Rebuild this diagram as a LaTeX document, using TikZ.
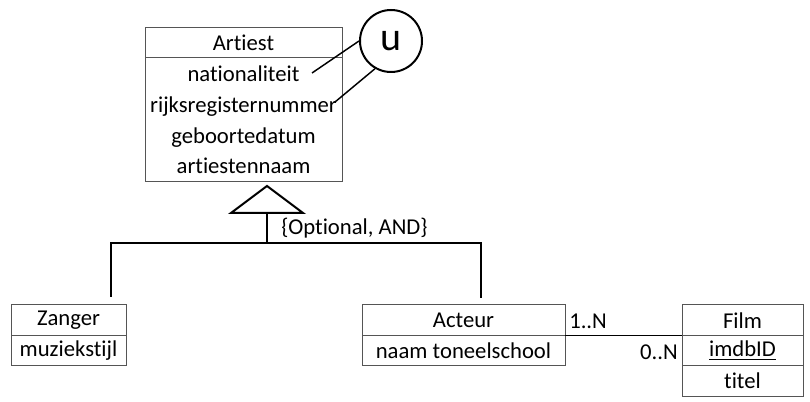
\documentclass[tikz,border=0pt]{standalone}
\usepackage{amsmath}
\usepackage{xcolor}
\usepackage{fontspec}
\setmainfont[Ligatures={NoCommon}]{Carlito}
\usepackage{tikz}
\usetikzlibrary{positioning}

\definecolor{boxgray}{RGB}{85,85,85}

\tikzset{
  entrow/.style={draw=boxgray, line width=0.75pt, inner sep=0pt, outer sep=0pt, align=center,
    font=\fontsize{17}{23}\selectfont},
  genline/.style={line width=1.5pt, black},
  assocline/.style={line width=0.75pt, black},
  cardlabel/.style={inner sep=0pt, font=\fontsize{17}{23}\selectfont}
}

\begin{document}
\begin{tikzpicture}[x=0.75pt,y=0.75pt,yscale=-1,xscale=1]

\useasboundingbox (0,0) rectangle (810,402);


\node (artiest) [entrow, anchor=north west, minimum width=147.75pt, minimum height=22.5pt] at (145,28) {Artiest};

\node (artiestattr) [entrow, below=0pt of artiest, minimum width=147.75pt, minimum height=93pt] {nationaliteit\\rijksregisternummer\\geboortedatum\\artiestennaam};


\node (uniek) [circle, draw, line width=1.5pt, minimum size=46.5pt, inner sep=0pt, font=\fontsize{30}{34}\selectfont] at (391,41) {u};

\coordinate (natend) at (312,73);

\coordinate (rijksend) at (335,102);

\draw [line width=1.1pt] (natend) -- (uniek.180);

\draw [line width=1.1pt] (rijksend) -- (uniek.240);


\node (zanger) [entrow, anchor=north west, minimum width=86.25pt, minimum height=23pt] at (11,305) {Zanger};

\node (zangerattr) [entrow, below=0pt of zanger, minimum width=86.25pt, minimum height=22.5pt] {muziekstijl};


\node (acteur) [entrow, anchor=north west, minimum width=152.25pt, minimum height=23pt] at (362,305) {Acteur};

\node (acteurattr) [entrow, below=0pt of acteur, minimum width=152.25pt, minimum height=22.5pt] {naam toneelschool};


\node (film) [entrow, anchor=north west, minimum width=90.75pt, minimum height=23pt] at (682,305) {Film};

\node (filmkey) [entrow, below=0pt of film, minimum width=90.75pt, minimum height=22.5pt] {\underline{imdbID}};

\node (filmattr) [entrow, below=0pt of filmkey, minimum width=90.75pt, minimum height=23.25pt] {titel};


\coordinate (gentop) at (267,186);

\coordinate (genbase) at (267,213);

\coordinate (genbar) at (267,243);

\coordinate (zangerup) at (111,297);

\coordinate (acteurup) at (481,298);

\draw [genline, line join=miter] (231,213) -- (gentop) -- (303,213) -- cycle;

\draw [genline] (genbase) -- (genbar);

\draw [genline] (zangerup) |- (genbar) -| (acteurup);

\node (genlabel) [cardlabel, anchor=west] at (281,228) {\{Optional, AND\}};


\draw [assocline] (acteur.south east) -- (film.south west);

\node (acteurcard) [cardlabel, anchor=west] at (569,321) {1..N};

\node (filmcard) [cardlabel, anchor=east] at (678,352) {0..N};


\end{tikzpicture}
\end{document}
